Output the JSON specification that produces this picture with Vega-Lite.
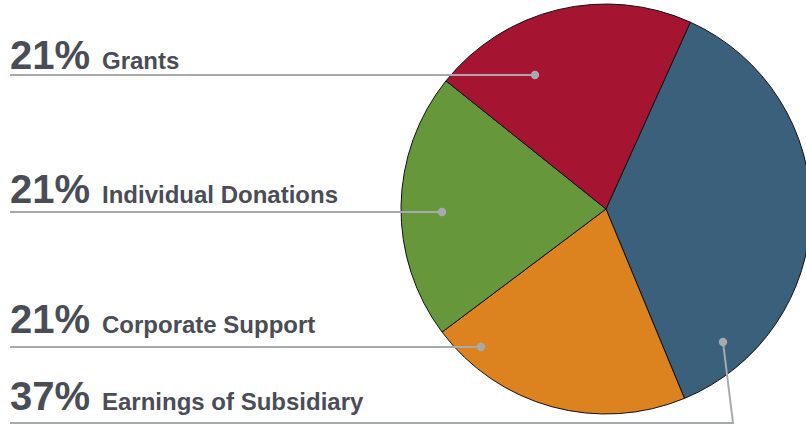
{
  "$schema": "https://vega.github.io/schema/vega-lite/v6.json",
  "width": 806,
  "height": 424,
  "autosize": {"type": "none"},
  "padding": 0,
  "background": "#ffffff",
  "config": {"view": {"stroke": null}},
  "datasets": {
    "slices": [
      {"source": "Earnings of Subsidiary", "pct": 37, "order": 1},
      {"source": "Corporate Support", "pct": 21, "order": 2},
      {"source": "Individual Donations", "pct": 21, "order": 3},
      {"source": "Grants", "pct": 21, "order": 4}
    ],
    "labels": [
      {"source": "Grants", "share": "21%", "ty": 69},
      {"source": "Individual Donations", "share": "21%", "ty": 203},
      {"source": "Corporate Support", "share": "21%", "ty": 333},
      {"source": "Earnings of Subsidiary", "share": "37%", "ty": 410}
    ],
    "connectors": [
      {"source": "Grants", "step": 1, "px": 10, "py": 75, "dot": false},
      {"source": "Grants", "step": 2, "px": 535, "py": 75, "dot": true},
      {"source": "Individual Donations", "step": 1, "px": 10, "py": 212, "dot": false},
      {"source": "Individual Donations", "step": 2, "px": 442, "py": 212, "dot": true},
      {"source": "Corporate Support", "step": 1, "px": 10, "py": 347, "dot": false},
      {"source": "Corporate Support", "step": 2, "px": 481, "py": 347, "dot": true},
      {"source": "Earnings of Subsidiary", "step": 1, "px": 10, "py": 423, "dot": false},
      {"source": "Earnings of Subsidiary", "step": 2, "px": 733, "py": 423, "dot": false},
      {"source": "Earnings of Subsidiary", "step": 3, "px": 723, "py": 342, "dot": true}
    ]
  },
  "layer": [
    {
      "data": {"name": "slices"},
      "mark": {"type": "arc", "outerRadius": 205, "stroke": "#111111", "strokeWidth": 1},
      "encoding": {
        "x": {"datum": 606, "type": "quantitative", "scale": {"domain": [0, 806], "nice": false, "zero": false}, "axis": null},
        "y": {"datum": 209, "type": "quantitative", "scale": {"domain": [0, 424], "nice": false, "zero": false, "reverse": true}, "axis": null},
        "theta": {"field": "pct", "type": "quantitative", "stack": true, "scale": {"range": [0.4241, 6.7073]}},
        "order": {"field": "order", "type": "quantitative"},
        "color": {
          "field": "source", "type": "nominal", "legend": null,
          "scale": {
            "domain": ["Earnings of Subsidiary", "Corporate Support", "Individual Donations", "Grants"],
            "range": ["#3a607b", "#dc821e", "#66983b", "#a51431"]
          }
        }
      }
    },
    {
      "data": {"name": "connectors"},
      "mark": {"type": "line", "color": "#a7a9ae", "strokeWidth": 2, "strokeCap": "butt"},
      "encoding": {
        "x": {"field": "px", "type": "quantitative"},
        "y": {"field": "py", "type": "quantitative"},
        "detail": {"field": "source", "type": "nominal"},
        "order": {"field": "step", "type": "quantitative"}
      }
    },
    {
      "data": {"name": "connectors"},
      "transform": [{"filter": "datum.dot"}],
      "mark": {"type": "circle", "color": "#a7a9ae", "opacity": 1, "size": 70},
      "encoding": {
        "x": {"field": "px", "type": "quantitative"},
        "y": {"field": "py", "type": "quantitative"}
      }
    },
    {
      "data": {"name": "labels"},
      "mark": {"type": "text", "align": "left", "baseline": "alphabetic", "font": "Liberation Sans", "fontWeight": "bold", "fontSize": 40, "color": "#4a4d55"},
      "encoding": {
        "x": {"datum": 10, "type": "quantitative"},
        "y": {"field": "ty", "type": "quantitative"},
        "text": {"field": "share"}
      }
    },
    {
      "data": {"name": "labels"},
      "mark": {"type": "text", "align": "left", "baseline": "alphabetic", "font": "Liberation Sans", "fontWeight": "bold", "fontSize": 24, "color": "#4a4d55"},
      "encoding": {
        "x": {"datum": 102, "type": "quantitative"},
        "y": {"field": "ty", "type": "quantitative"},
        "text": {"field": "source"}
      }
    }
  ]
}
